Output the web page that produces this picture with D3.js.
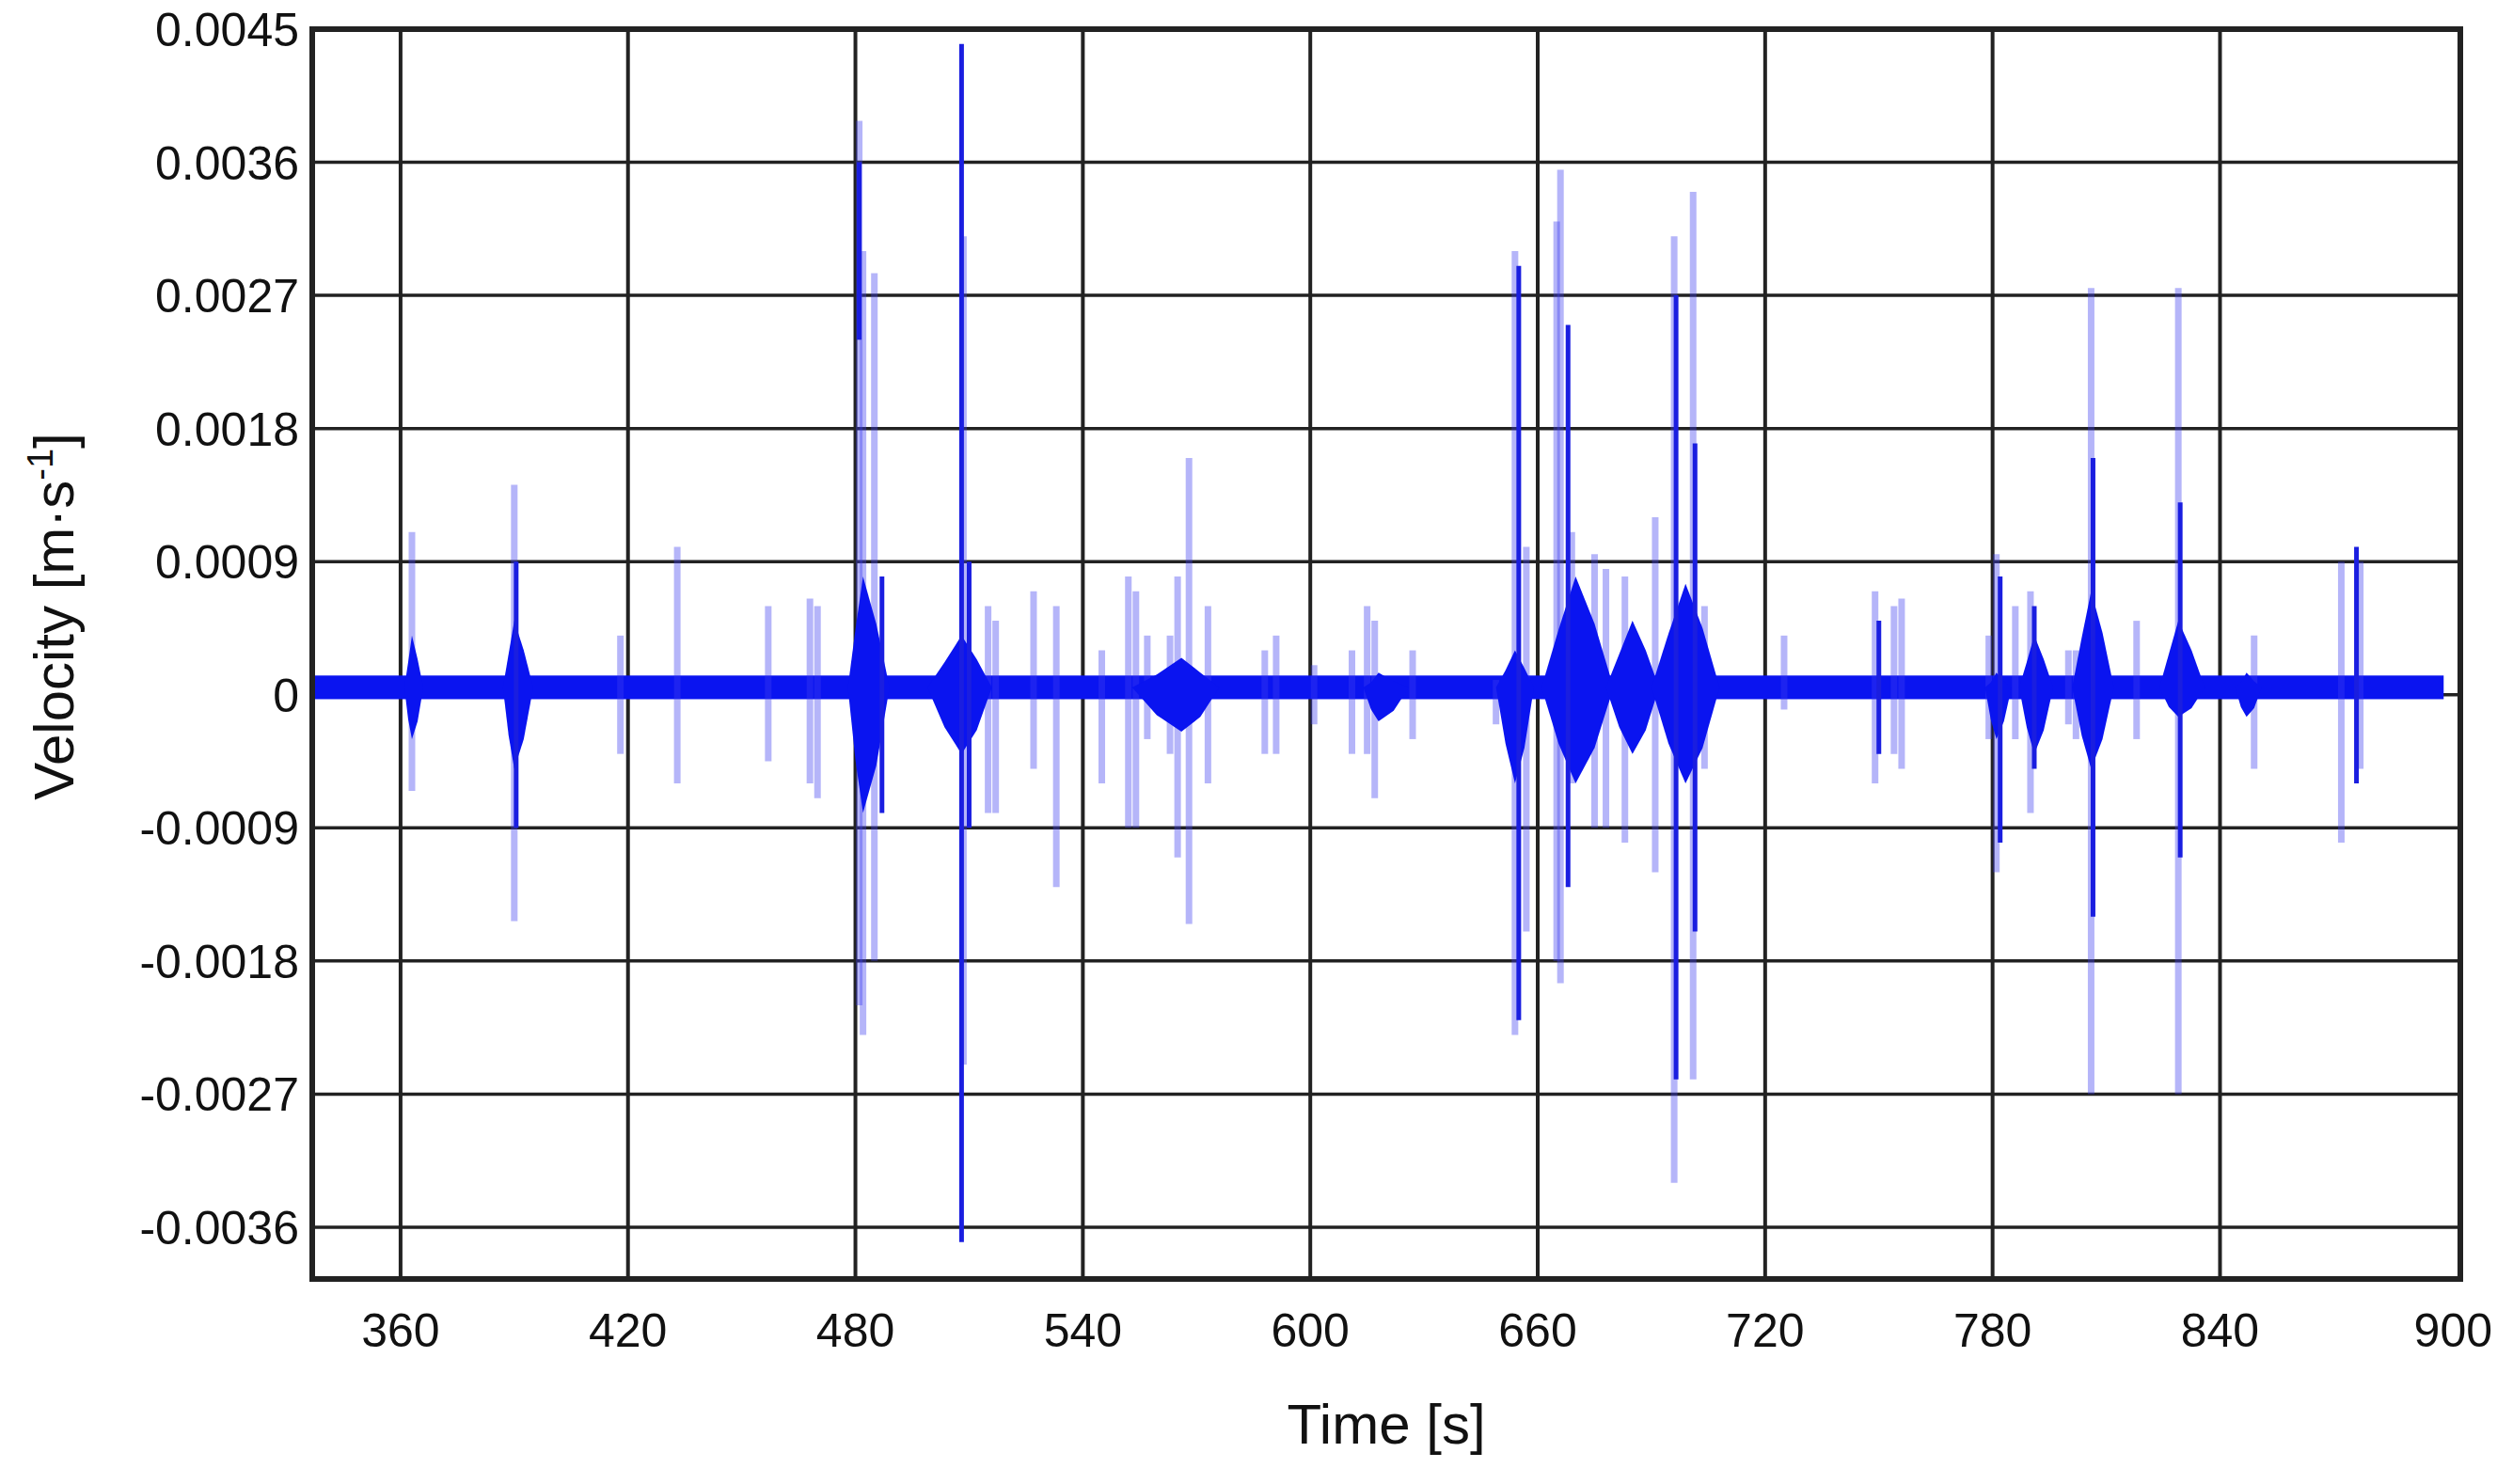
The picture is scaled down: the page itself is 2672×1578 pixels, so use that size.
<!DOCTYPE html>
<html><head><meta charset="utf-8">
<script src="https://cdn.jsdelivr.net/npm/d3@7"></script>
<style>body{margin:0;background:#fff}svg{display:block}</style>
</head><body><svg id="c" width="2672" height="1578"></svg>
<script>
const xTicks = [360,420,480,540,600,660,720,780,840,900];
const yTicks = [0.0045,0.0036,0.0027,0.0018,0.0009,0,-0.0009,-0.0018,-0.0027,-0.0036];
const yTickLabels = ["0.0045","0.0036","0.0027","0.0018","0.0009","0","-0.0009","-0.0018","-0.0027","-0.0036"];
// baseline noise band [start, end, top, bottom]
const baseline = [337, 899, 0.00013, -0.00003];
// dense bursts: [tStart, tPeak, tEnd, top, bottom]
const bursts = [
 [361,363,366,0.0004,-0.0003],[387,390,395,0.0005,-0.0005],[478,482,489,0.0008,-0.0008],
 [499,508,516,0.0004,-0.0004],[553,566,576,0.00025,-0.00025],[614,618,626,0.00015,-0.00018],
 [649,654,659,0.0003,-0.0006],[661,670,680,0.0008,-0.0006],[678,685,692,0.0005,-0.0004],
 [690,699,708,0.00075,-0.0006],[778,781,785,0.00015,-0.0003],[787,791,796,0.0004,-0.0004],
 [801,806,812,0.0007,-0.0005],[824,829,836,0.0005,-0.00015],[844,847,851,0.00015,-0.00015]
];
// individual spikes: [time, top, bottom, dark(1) or light(0)]
const spikes = [
 [363,0.0011,-0.00065,0],[390,0.00142,-0.00153,0],[390.5,0.0009,-0.0009,1],[418,0.0004,-0.0004,0],
 [433,0.001,-0.0006,0],[457,0.0006,-0.00045,0],[468,0.00065,-0.0006,0],[470,0.0006,-0.0007,0],
 [481,0.00388,-0.0021,0],[481,0.0036,0.0024,1],[482,0.0030,-0.0023,0],[485,0.00285,-0.0018,0],
 [487,0.0008,-0.0008,1],[508,0.0044,-0.0037,1],[508.5,0.0031,-0.0025,0],[510,0.0009,-0.0009,1],
 [515,0.0006,-0.0008,0],[517,0.0005,-0.0008,0],[527,0.0007,-0.0005,0],[533,0.0006,-0.0013,0],
 [545,0.0003,-0.0006,0],[552,0.0008,-0.0009,0],[554,0.0007,-0.0009,0],[557,0.0004,-0.0003,0],
 [563,0.0004,-0.0004,0],[565,0.0008,-0.0011,0],[568,0.0016,-0.00155,0],[573,0.0006,-0.0006,0],
 [588,0.0003,-0.0004,0],[591,0.0004,-0.0004,0],[601,0.0002,-0.0002,0],[611,0.0003,-0.0004,0],
 [615,0.0006,-0.0004,0],[617,0.0005,-0.0007,0],[627,0.0003,-0.0003,0],[649,0.0001,-0.0002,0],
 [654,0.0030,-0.0023,0],[655,0.0029,-0.0022,1],[657,0.001,-0.0016,0],[665,0.0032,-0.0018,0],
 [666,0.00355,-0.00195,0],[668,0.0025,-0.0013,1],[669,0.0011,-0.0006,0],[675,0.00095,-0.0009,0],
 [678,0.00085,-0.0009,0],[683,0.0008,-0.001,0],[691,0.0012,-0.0012,0],[696,0.0031,-0.0033,0],
 [696.5,0.0027,-0.0026,1],[701,0.0034,-0.0026,0],[701.5,0.0017,-0.0016,1],[704,0.0006,-0.0005,0],
 [725,0.0004,-0.0001,0],[749,0.0007,-0.0006,0],[750,0.0005,-0.0004,1],[754,0.0006,-0.0004,0],
 [756,0.00065,-0.0005,0],[779,0.0004,-0.0003,0],[781,0.00095,-0.0012,0],[782,0.0008,-0.001,1],
 [786,0.0006,-0.0003,0],[790,0.0007,-0.0008,0],[791,0.0006,-0.0005,1],[800,0.0003,-0.0002,0],
 [802,0.0003,-0.0003,0],[806,0.00275,-0.0027,0],[806.5,0.0016,-0.0015,1],[818,0.0005,-0.0003,0],
 [829,0.00275,-0.0027,0],[829.5,0.0013,-0.0011,1],[849,0.0004,-0.0005,0],[872,0.0009,-0.001,0],
 [876,0.001,-0.0006,1],[877,0.0009,-0.0005,0]
];

const L=332, R=2616, T=31, B=1360;
const svg=d3.select("#c");
const x=d3.scaleLinear().domain([336.7,903.4]).range([L,R]);
const y=d3.scaleLinear().domain([-0.00395,0.0045]).range([B,T]);
const g=svg.append("g");

g.selectAll(".vg").data(xTicks.slice(0,-1)).join("line")
 .attr("x1",d=>x(d)).attr("x2",d=>x(d)).attr("y1",T).attr("y2",B)
 .attr("stroke","#222").attr("stroke-width",4);
g.selectAll(".hg").data(yTicks.slice(1)).join("line")
 .attr("x1",L).attr("x2",R).attr("y1",d=>y(d)).attr("y2",d=>y(d))
 .attr("stroke","#222").attr("stroke-width",3.5);

g.append("rect").attr("x",x(baseline[0])).attr("width",x(baseline[1])-x(baseline[0]))
 .attr("y",y(baseline[2])).attr("height",y(baseline[3])-y(baseline[2])).attr("fill","#0a14f0");
g.selectAll(".ls").data(spikes.filter(d=>!d[3])).join("line")
 .attr("x1",d=>x(d[0])).attr("x2",d=>x(d[0])).attr("y1",d=>y(d[1])).attr("y2",d=>y(d[2]))
 .attr("stroke","rgba(60,60,240,0.38)").attr("stroke-width",7);
const mid=(baseline[2]+baseline[3])/2;
g.selectAll(".bu").data(bursts).join("path")
 .attr("d",d=>d3.line()([[x(d[0]),y(mid)],[x((d[0]+d[1])/2),y(d[3]*0.55)],[x(d[1]),y(d[3])],
   [x((d[1]+d[2])/2),y(d[3]*0.6)],[x(d[2]),y(mid)],[x((d[1]+d[2])/2),y(d[4]*0.6)],[x(d[1]),y(d[4])],
   [x((d[0]+d[1])/2),y(d[4]*0.55)]])+"Z")
 .attr("fill","#0a14f0");
g.selectAll(".ds").data(spikes.filter(d=>d[3])).join("line")
 .attr("x1",d=>x(d[0])).attr("x2",d=>x(d[0])).attr("y1",d=>y(d[1])).attr("y2",d=>y(d[2]))
 .attr("stroke","#1a1ee0").attr("stroke-width",5);

g.append("rect").attr("x",L).attr("y",T).attr("width",R-L).attr("height",B-T)
 .attr("fill","none").attr("stroke","#222").attr("stroke-width",6);

const font="Liberation Sans, Arial, sans-serif";
g.selectAll(".xt").data(xTicks).join("text")
 .attr("x",d=>d===900?x(d)+6:x(d)).attr("y",B+72).attr("text-anchor","middle")
 .attr("font-family",font).attr("font-size",50).attr("fill","#111").text(d=>d);
g.selectAll(".yt").data(yTicks).join("text")
 .attr("x",L-14).attr("y",d=>y(d)+18).attr("text-anchor","end")
 .attr("font-family",font).attr("font-size",50).attr("fill","#111").text((d,i)=>yTickLabels[i]);

svg.append("text").attr("x",(L+R)/2).attr("y",1535).attr("text-anchor","middle")
 .attr("font-family",font).attr("font-size",60).attr("fill","#111").text("Time [s]");
const yl=svg.append("text").attr("transform",`translate(78,${(T+B)/2-40}) rotate(-90)`)
 .attr("text-anchor","middle").attr("font-family",font).attr("font-size",60).attr("fill","#111");
yl.append("tspan").text("Velocity [m·s");
yl.append("tspan").attr("dy",-22).attr("font-size",38).text("-1");
yl.append("tspan").attr("dy",22).text("]");
</script></body></html>
